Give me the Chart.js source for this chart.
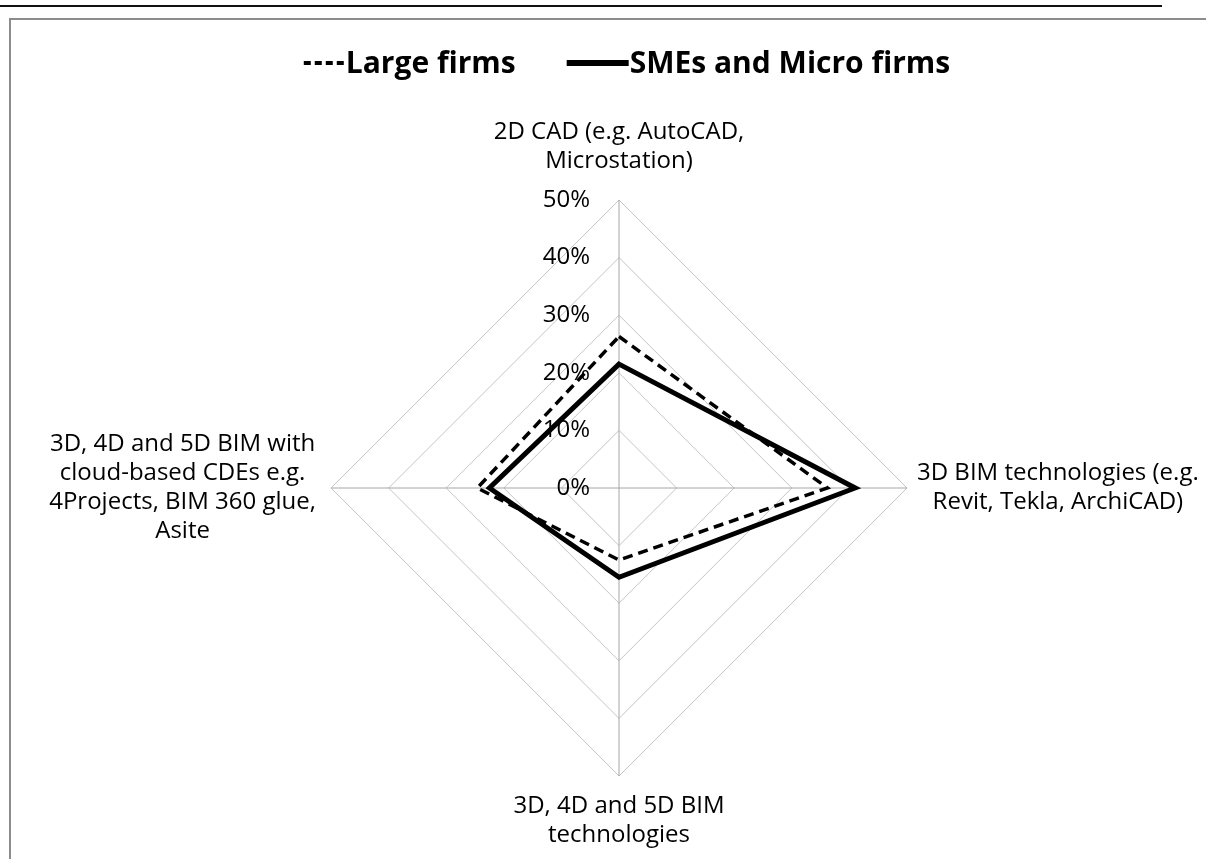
<!DOCTYPE html>
<html lang="en">
  <head>
    <meta charset="UTF-8" />
    <title>BIM technologies radar</title>
    <script src="https://cdn.jsdelivr.net/npm/chart.js"></script>
    <style>
      * {
        margin: 0;
        padding: 0;
        box-sizing: border-box;
      }

      body {
        width: 1206px;
        height: 859px;
        overflow: hidden;
        background: #fff;
        position: relative;
        font-family: "Open Sans", sans-serif;
      }

      /* rule above the figure */
      .topRule {
        position: absolute;
        left: 0;
        top: 5px;
        width: 1162px;
        height: 2px;
        background: #111;
      }

      /* chart frame, runs off the page on the right and bottom */
      .frame {
        position: absolute;
        left: 9px;
        top: 18px;
        width: 1300px;
        height: 1000px;
        border: 2px solid #8c8c8c;
      }

      .chartBox {
        position: absolute;
        left: 0;
        top: 0;
        width: 1206px;
        height: 859px;
      }
    </style>
  </head>
  <body>
    <div class="topRule"></div>
    <div class="frame"></div>
    <div class="chartBox">
      <canvas id="radarChart"></canvas>
    </div>

    <script>
      // Data
      const categories = [
        ["2D CAD (e.g. AutoCAD,", "Microstation)"],
        ["3D BIM technologies (e.g.", "Revit, Tekla, ArchiCAD)"],
        ["3D, 4D and 5D BIM", "technologies"],
        ["3D, 4D and 5D BIM with", "cloud-based CDEs e.g.", "4Projects, BIM 360 glue,", "Asite"],
      ];
      const largeFirms = [0.263, 0.362, 0.125, 0.246];
      const smeFirms = [0.215, 0.41, 0.155, 0.225];
      const seriesNames = ["Large firms", "SMEs and Micro firms"];
      const tickValues = [0, 0.1, 0.2, 0.3, 0.4, 0.5];

      const FONT = "'Open Sans', sans-serif";
      const LABEL_SIZE = 24;
      const LINE_H = 29;

      // draws tick labels, category labels and legend the way Excel lays them out
      const excelText = {
        id: "excelText",
        afterDraw(chart) {
          const r = chart.scales.r;
          const ctx = chart.ctx;
          ctx.save();
          ctx.fillStyle = "#000";
          ctx.font = `${LABEL_SIZE}px ${FONT}`;

          // value ticks, left of the vertical axis
          ctx.textAlign = "right";
          ctx.textBaseline = "middle";
          r.ticks.forEach((t) => {
            const y = r.yCenter - r.getDistanceFromCenterForValue(t.value);
            ctx.fillText(Math.round(t.value * 100) + "%", r.xCenter - 29, y);
          });

          // category labels, centred blocks just outside each spoke
          const gaps = [24, 10, 16, 15];
          ctx.textAlign = "center";
          categories.forEach((lines, i) => {
            const p = r.getPointPosition(i, r.drawingArea + gaps[i]);
            const w = Math.max(...lines.map((l) => ctx.measureText(l).width));
            const h = lines.length * LINE_H;
            const cx = p.x + Math.cos(p.angle) * w / 2;
            const cy = p.y + Math.sin(p.angle) * h / 2;
            lines.forEach((l, k) => {
              ctx.fillText(l, cx, cy - h / 2 + LINE_H * (k + 0.5));
            });
          });

          // legend
          ctx.font = `bold 30px ${FONT}`;
          ctx.textAlign = "left";
          const sampleLen = [41, 62];
          const itemGap = 51;
          const widths = chart.data.datasets.map(
            (ds, i) => sampleLen[i] + 1 + ctx.measureText(ds.label).width
          );
          const total = widths.reduce((a, b) => a + b, 0) + itemGap;
          let x = 627 - total / 2;
          const y = 63;
          chart.data.datasets.forEach((ds, i) => {
            ctx.beginPath();
            ctx.strokeStyle = ds.borderColor;
            ctx.lineWidth = i === 0 ? 4 : 6;
            ctx.setLineDash(i === 0 ? [7, 4] : []);
            ctx.moveTo(x, y);
            ctx.lineTo(x + sampleLen[i], y);
            ctx.stroke();
            ctx.setLineDash([]);
            ctx.fillText(ds.label, x + sampleLen[i] + 1, y + 1);
            x += widths[i] + itemGap;
          });
          ctx.restore();
        },
      };

      const ctx = document.getElementById("radarChart").getContext("2d");

      const radarChart = new Chart(ctx, {
        type: "radar",
        data: {
          labels: categories,
          datasets: [
            {
              label: seriesNames[0],
              data: largeFirms,
              borderColor: "#000",
              borderWidth: 3.5,
              borderDash: [10, 6],
              borderJoinStyle: "miter",
              fill: false,
              pointRadius: 0,
              tension: 0,
            },
            {
              label: seriesNames[1],
              data: smeFirms,
              borderColor: "#000",
              borderWidth: 5,
              borderJoinStyle: "miter",
              fill: false,
              pointRadius: 0,
              tension: 0,
            },
          ],
        },
        options: {
          responsive: true,
          maintainAspectRatio: false,
          animation: false,
          layout: {
            padding: { left: 331, top: 200, right: 299, bottom: 83 },
          },
          plugins: {
            legend: { display: false },
            tooltip: { enabled: false },
          },
          scales: {
            r: {
              min: 0,
              max: 0.5,
              afterBuildTicks: (scale) => {
                scale.ticks = tickValues.map((v) => ({ value: v }));
              },
              afterFit: (scale) => {
                // keep the web square inside the padded area
                scale.xCenter = scale.left + scale.width / 2;
                scale.yCenter = scale.top + scale.height / 2;
                scale.drawingArea = Math.min(scale.width, scale.height) / 2;
              },
              ticks: { display: false },
              pointLabels: { display: false },
              grid: { color: "#c4c4c4", lineWidth: 1 },
              angleLines: { color: "#a6a6a6", lineWidth: 1 },
            },
          },
        },
        plugins: [excelText],
      });
    </script>
  </body>
</html>
